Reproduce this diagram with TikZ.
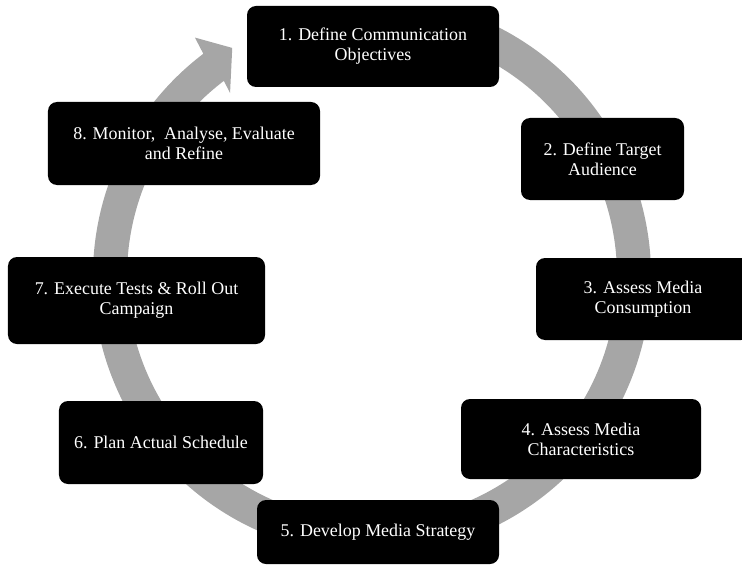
\documentclass[tikz,border=0pt]{standalone}
\usepackage{fontspec}
\setmainfont{Liberation Serif}
\usepackage{xcolor}
\definecolor{RingGray}{RGB}{166,166,166}

\tikzset{
   StepStyle/.style = {fill=black, text=white, rounded corners=9bp,
      align=center, inner sep=0pt, font=\fontsize{18}{20}\selectfont}
}

\begin{document}
\begin{tikzpicture}[x=1bp,y=-1bp]
   \useasboundingbox (0,0) rectangle (742,565);
   \clip (0,0) rectangle (742,565);
   \coordinate (C) at (372,276);
   \fill[RingGray, shift={(C)}]
      (-73:279) arc[start angle=-73, end angle=232.8, radius=279]
      -- (233.4:297) -- (238.5:267.5) -- (232.2:231.6) -- (232.8:245)
      arc[start angle=232.8, end angle=-73, radius=245] -- cycle;
   \node[StepStyle, minimum width=252bp, minimum height=81bp] (S1) at (373,46.5)
      {1. Define Communication\\Objectives};
   \node[StepStyle, minimum width=163bp, minimum height=82bp] (S2) at (602.5,159)
      {2. Define Target\\Audience};
   \node[StepStyle, minimum width=214bp, minimum height=82bp] (S3) at (643,299)
      {3. Assess Media\\Consumption};
   \node[StepStyle, minimum width=240bp, minimum height=80bp] (S4) at (581,439)
      {4. Assess Media\\Characteristics};
   \node[StepStyle, minimum width=242bp, minimum height=64bp] (S5) at (378,532)
      {5. Develop Media Strategy};
   \node[StepStyle, minimum width=204bp, minimum height=83bp] (S6) at (161,442.5)
      {6. Plan Actual Schedule};
   \node[StepStyle, minimum width=257bp, minimum height=87bp] (S7) at (136.5,300.5)
      {7. Execute Tests \& Roll Out\\Campaign};
   \node[StepStyle, minimum width=272bp, minimum height=83bp] (S8) at (184,143.5)
      {8. Monitor,~ Analyse, Evaluate\\and Refine};
\end{tikzpicture}
\end{document}
